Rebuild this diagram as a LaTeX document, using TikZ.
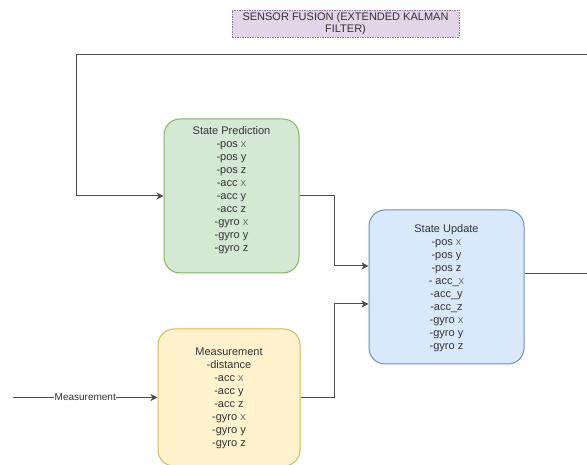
\documentclass[tikz,border=0pt]{standalone}
\usepackage{fontspec}
\setmainfont{Liberation Sans}
\usepackage{xcolor}
\usetikzlibrary{arrows.meta, calc}
\definecolor{predfill}{HTML}{D5E8D4}
\definecolor{preddraw}{HTML}{82B366}
\definecolor{updfill}{HTML}{DAE8FC}
\definecolor{upddraw}{HTML}{6C8EBF}
\definecolor{measfill}{HTML}{FFF2CC}
\definecolor{measdraw}{HTML}{D6B656}
\definecolor{titlefill}{HTML}{E1D5E7}
\definecolor{titledraw}{HTML}{9673A6}
\definecolor{txtgray}{HTML}{333333}
\newcommand{\lite}[1]{\textcolor{black!55}{#1}}

\begin{document}
\begin{tikzpicture}[x=1pt, y=1pt,
    stage/.style={rectangle, rounded corners=16pt, line width=1pt, align=center,
                  text=txtgray, inner sep=0pt, font=\fontsize{11}{13}\selectfont},
    link/.style={draw=black!70, line width=1pt},
    arr/.style={link, -{Stealth[length=7pt, width=7pt, inset=2pt]}}
]
\useasboundingbox (0,0) rectangle (587,465);
\clip (0,0) rectangle (587,465);

% title
\node[rectangle, fill=titlefill, draw=titledraw, line width=0.6pt,
      dash pattern=on 1.5pt off 1pt, minimum width=227pt, minimum height=27pt,
      align=center, text=txtgray, inner sep=0pt, font=\fontsize{11}{12.5}\selectfont]
      (title) at (345.5,441.5) {SENSOR FUSION (EXTENDED KALMAN\\FILTER)};

% stages
\node[stage, fill=predfill, draw=preddraw, minimum width=135pt, minimum height=154pt,
      text depth=14pt] (pred) at (231.5,269)
  {State Prediction\\-pos \lite{x}\\-pos y\\-pos z\\-acc \lite{x}\\-acc y\\-acc z\\-gyro \lite{x}\\-gyro y\\-gyro z};
\node[stage, fill=updfill, draw=upddraw, minimum width=155pt, minimum height=154pt,
      text depth=0pt] (upd) at (446.5,178)
  {State Update\\-pos \lite{x}\\-pos y\\-pos z\\- acc\_\lite{x}\\-acc\_y\\-acc\_z\\-gyro \lite{x}\\-gyro y\\-gyro z};
\node[stage, fill=measfill, draw=measdraw, minimum width=142pt, minimum height=137pt,
      text depth=0pt] (meas) at (229,67.5)
  {Measurement\\-distance\\-acc \lite{x}\\-acc y\\-acc z\\-gyro \lite{x}\\-gyro y\\-gyro z};

% connectors
\coordinate (src) at (13,67.5);
\draw[arr] (src) -- node[fill=white, inner sep=0.5pt, text=txtgray,
    font=\fontsize{10}{12}\selectfont] (srclbl) {Measurement} (meas.west);
\draw[arr] (pred.east) -- ++(35,0) |- ($(upd.west)+(0,21)$);
\draw[arr] (meas.east) -- ++(34,0) |- ($(upd.west)+(0,-17)$);
\draw[arr] ($(upd.east)+(0,13)$) -- ++(80,0) |- (76,410) |- (pred.west);
\end{tikzpicture}
\end{document}
